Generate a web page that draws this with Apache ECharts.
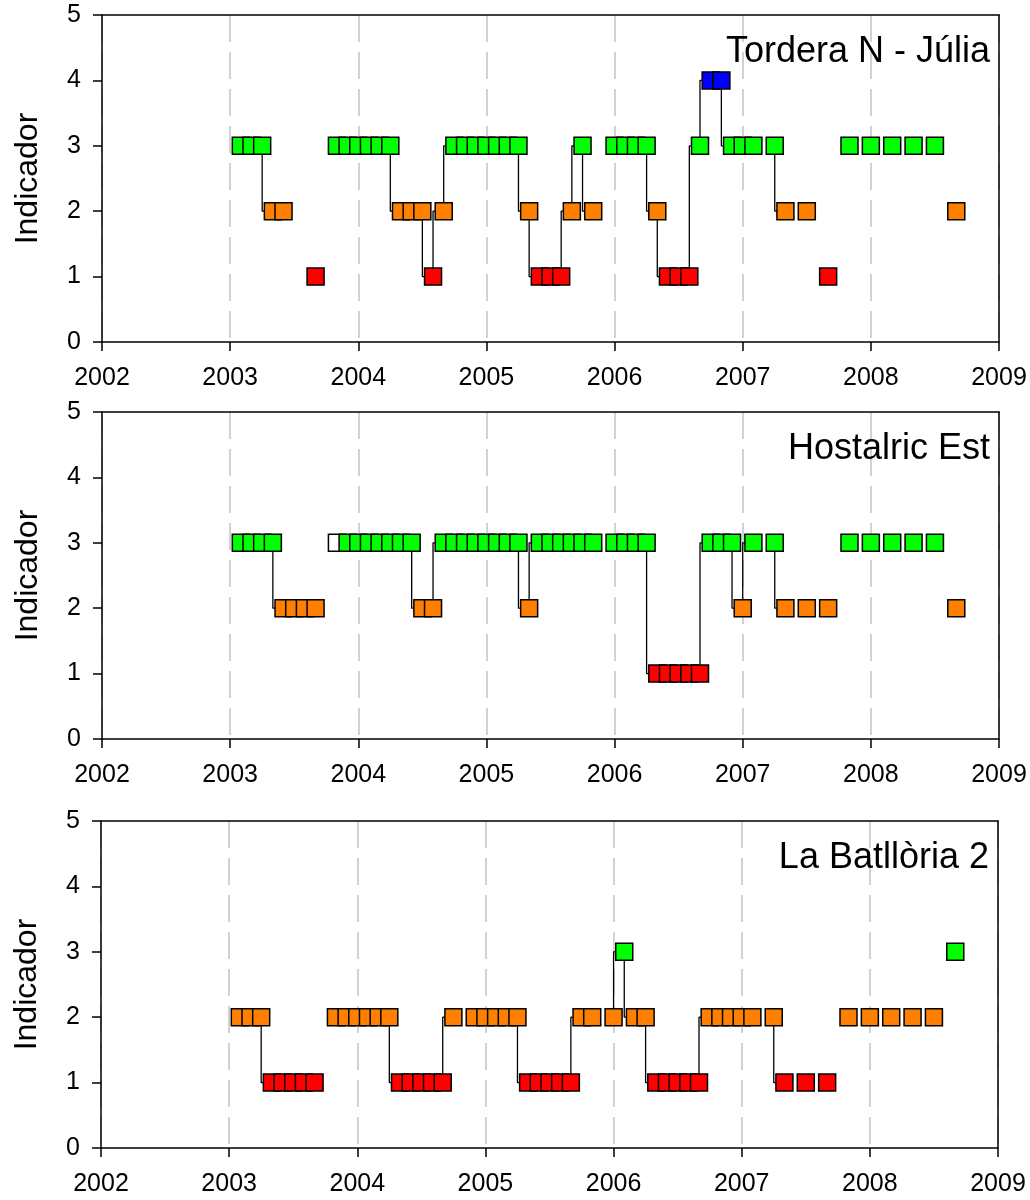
<!DOCTYPE html>
<html><head><meta charset="utf-8">
<script src="https://cdn.jsdelivr.net/npm/echarts@6/dist/echarts.min.js"></script>
<style>html,body{margin:0;padding:0;background:#fff}#c{width:1030px;height:1200px}</style>
</head><body><div id="c"></div>
<script>
// ---- data ----
const titles = ['Tordera N - Júlia', 'Hostalric Est', 'La Batllòria 2'];
const xTickLabels = ['2002','2003','2004','2005','2006','2007','2008','2009'];
const yTickLabels = ['0','1','2','3','4','5'];
const yName = 'Indicador';

// Tordera N - Júlia
const months1 = ['2003-02','2003-03','2003-04','2003-05','2003-06','2003-09','2003-11','2003-12',
  '2004-01','2004-02','2004-03','2004-04','2004-05','2004-06','2004-07','2004-08','2004-09','2004-10','2004-11','2004-12',
  '2005-01','2005-02','2005-03','2005-04','2005-05','2005-06','2005-07','2005-08','2005-09','2005-10','2005-11',
  '2006-01','2006-02','2006-03','2006-04','2006-05','2006-06','2006-07','2006-08','2006-09','2006-10','2006-11','2006-12',
  '2007-01','2007-02','2007-04','2007-05','2007-07','2007-09','2007-11',
  '2008-01','2008-03','2008-05','2008-07','2008-09'];
const values1 = [3,3,3,2,2,1,3,3,
  3,3,3,3,2,2,2,1,2,3,3,3,
  3,3,3,3,2,1,1,1,2,3,2,
  3,3,3,3,2,1,1,1,3,4,4,3,
  3,3,3,2,2,1,3,
  3,3,3,3,2];
const open1 = [];

// Hostalric Est
const months2 = ['2003-02','2003-03','2003-04','2003-05','2003-06','2003-07','2003-08','2003-09','2003-11','2003-12',
  '2004-01','2004-02','2004-03','2004-04','2004-05','2004-06','2004-07','2004-08','2004-09','2004-10','2004-11','2004-12',
  '2005-01','2005-02','2005-03','2005-04','2005-05','2005-06','2005-07','2005-08','2005-09','2005-10','2005-11',
  '2006-01','2006-02','2006-03','2006-04','2006-05','2006-06','2006-07','2006-08','2006-09','2006-10','2006-11','2006-12',
  '2007-01','2007-02','2007-04','2007-05','2007-07','2007-09','2007-11',
  '2008-01','2008-03','2008-05','2008-07','2008-09'];
const values2 = [3,3,3,3,2,2,2,2,3,3,
  3,3,3,3,3,3,2,2,3,3,3,3,
  3,3,3,3,2,3,3,3,3,3,3,
  3,3,3,3,1,1,1,1,1,3,3,3,
  2,3,3,2,2,2,3,
  3,3,3,3,2];
const open2 = ['2003-11'];

// La Batllòria 2
const months3 = ['2003-02','2003-03','2003-04','2003-05','2003-06','2003-07','2003-08','2003-09','2003-11','2003-12',
  '2004-01','2004-02','2004-03','2004-04','2004-05','2004-06','2004-07','2004-08','2004-09','2004-10','2004-12',
  '2005-01','2005-02','2005-03','2005-04','2005-05','2005-06','2005-07','2005-08','2005-09','2005-10','2005-11',
  '2006-01','2006-02','2006-03','2006-04','2006-05','2006-06','2006-07','2006-08','2006-09','2006-10','2006-11','2006-12',
  '2007-01','2007-02','2007-04','2007-05','2007-07','2007-09','2007-11',
  '2008-01','2008-03','2008-05','2008-07','2008-09'];
const values3 = [2,2,2,1,1,1,1,1,2,2,
  2,2,2,2,1,1,1,1,1,2,2,
  2,2,2,2,1,1,1,1,1,2,2,
  2,3,2,2,1,1,1,1,1,2,2,2,
  2,2,2,1,1,1,2,
  2,2,2,2,3];
const open3 = [];

// ---- styling ----
const colorOf = {1:'#ff0000', 2:'#ff8000', 3:'#00ff00', 4:'#0000ff'};
const FONT = '"Liberation Sans", Arial, sans-serif';
const gridPos = [{left:102, top:15}, {left:102, top:412}, {left:101, top:821}];
const GW = 897, GH = 327;

function ym(s){ const p = s.split('-').map(Number); return p[0] + (p[1]-1)/12; }
function mi(s){ const p = s.split('-').map(Number); return p[0]*12 + p[1]-1; }

const panels = [
  {months: months1, values: values1, open: open1},
  {months: months2, values: values2, open: open2},
  {months: months3, values: values3, open: open3}
];

const option = {
  animation: false,
  backgroundColor: '#fff',
  title: [], grid: [], xAxis: [], yAxis: [], series: []
};

panels.forEach((p, i) => {
  const g = gridPos[i];
  option.grid.push({left: g.left, top: g.top, width: GW, height: GH, show: false});
  option.title.push({text: titles[i], right: 1030 - (g.left + GW) + 4, top: g.top + 14,
    textStyle: {fontFamily: FONT, fontSize: 36, fontWeight: 'normal', color: '#000'}});
  option.xAxis.push({type:'value', gridIndex:i, min:2002, max:2009, interval:1, position:'bottom',
    axisLine:{show:true, onZero:false, lineStyle:{color:'#000', width:1.5}},
    axisTick:{show:true, inside:false, length:9, lineStyle:{color:'#000', width:1.5}},
    axisLabel:{show:true, margin:24, fontFamily:FONT, fontSize:25, color:'#000',
      formatter: v => xTickLabels[Math.round(v - 2002)]},
    splitLine:{show:true, lineStyle:{color:'#c4c4c4', width:1.5, type:[27,10]}}});
  option.xAxis.push({type:'value', gridIndex:i, min:2002, max:2009, position:'top',
    axisLine:{show:true, onZero:false, lineStyle:{color:'#000', width:1.5}},
    axisTick:{show:false}, axisLabel:{show:false}, splitLine:{show:false}});
  option.yAxis.push({type:'value', gridIndex:i, min:0, max:5, interval:1, position:'left',
    name: yName, nameLocation:'middle', nameGap:58, nameRotate:90,
    nameTextStyle:{fontFamily:FONT, fontSize:32, color:'#000'},
    axisLine:{show:true, onZero:false, lineStyle:{color:'#000', width:1.5}},
    axisTick:{show:true, inside:false, length:9, lineStyle:{color:'#000', width:1.5}},
    axisLabel:{show:true, margin:21, fontFamily:FONT, fontSize:25, color:'#000',
      formatter: v => yTickLabels[Math.round(v)]},
    splitLine:{show:false}});
  option.yAxis.push({type:'value', gridIndex:i, min:0, max:5, position:'right',
    axisLine:{show:true, onZero:false, lineStyle:{color:'#000', width:1.5}},
    axisTick:{show:false}, axisLabel:{show:false}, splitLine:{show:false}});

  // step lines: one per run of consecutive months
  const runs = [];
  const pts = [];
  for (let j = 0; j < p.months.length; j++) {
    const x = ym(p.months[j]), y = p.values[j];
    if (j === 0 || mi(p.months[j]) - mi(p.months[j-1]) > 1) runs.push([]);
    runs[runs.length - 1].push([x, y]);
    const hollow = p.open.indexOf(p.months[j]) >= 0;
    pts.push({value:[x, y], itemStyle:{color: hollow ? '#ffffff' : colorOf[y]}});
  }
  runs.forEach(run => {
    if (run.length < 2) return;
    option.series.push({type:'line', xAxisIndex:2*i, yAxisIndex:2*i, data:run, step:'start',
      showSymbol:false, symbol:'none', z:2, lineStyle:{color:'#000', width:1.3}});
  });
  option.series.push({type:'scatter', xAxisIndex:2*i, yAxisIndex:2*i, data:pts, symbol:'rect',
    symbolSize:17, z:3, itemStyle:{borderColor:'#000', borderWidth:1.5, opacity:1}});
});

const chart = echarts.init(document.getElementById('c'), null, {renderer:'canvas'});
chart.setOption(option);
</script></body></html>
